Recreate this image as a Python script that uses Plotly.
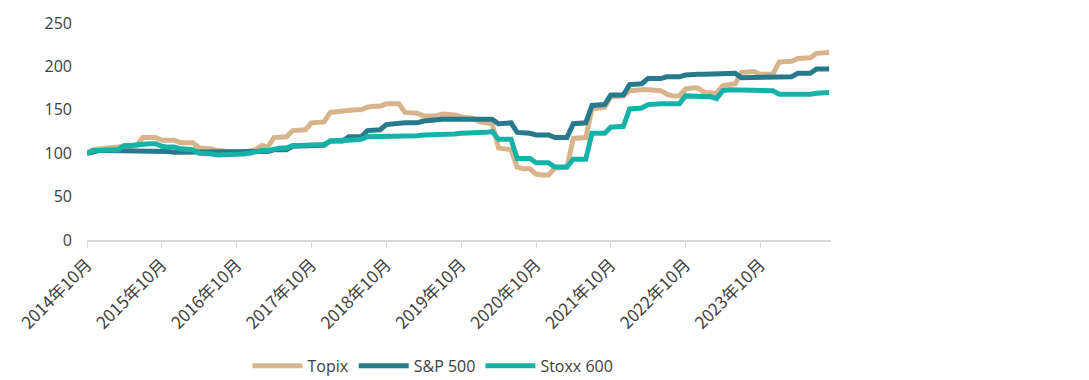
import pandas as pd
import plotly.graph_objects as go

months = pd.date_range("2014-10-01", periods=120, freq="MS")

topix = [100, 104, 105, 106, 106, 107, 108, 108, 109, 118, 118, 118,
         115, 115, 115, 112, 112, 112, 106, 106, 105, 103, 102, 101,
         101, 101, 102, 104, 109, 107, 118, 119, 119, 126, 127, 127,
         135, 136, 136, 147, 148, 148, 149, 150, 150, 153, 154, 154,
         157, 157, 157, 147, 146, 146, 143, 143, 143, 145, 145, 144,
         142, 141, 140, 136, 135, 134, 106, 105, 104, 84, 82, 82,
         76, 75, 75, 83, 84, 84, 117, 117, 118, 151, 152, 153,
         165, 166, 166, 172, 173, 173, 173, 173, 172, 168, 166, 166,
         174, 175, 175, 170, 169, 169, 178, 179, 180, 193, 194, 194,
         191, 191, 191, 205, 206, 206, 209, 209, 210, 215, 216, 216]

sp500 = [100, 102, 103, 103, 103, 103, 103, 103, 102, 102, 102, 102,
         102, 102, 101, 101, 101, 101, 101, 101, 101, 102, 102, 102,
         102, 102, 102, 102, 102, 102, 104, 104, 104, 108, 108, 108,
         109, 109, 109, 114, 114, 114, 119, 119, 119, 126, 127, 127,
         133, 134, 134, 135, 135, 135, 137, 138, 138, 139, 139, 139,
         139, 139, 139, 139, 139, 139, 134, 135, 135, 124, 124, 123,
         121, 121, 121, 118, 118, 118, 134, 134, 135, 155, 155, 156,
         167, 167, 167, 179, 180, 180, 186, 186, 186, 188, 188, 188,
         190, 191, 191, 191, 191, 191, 191, 191, 192, 187, 187, 187,
         187, 187, 187, 188, 188, 188, 192, 192, 192, 197, 197, 197]

stoxx600 = [100, 103, 103, 104, 104, 104, 109, 109, 110, 111, 111, 111,
            108, 107, 107, 105, 104, 104, 100, 100, 99, 98, 98, 98,
            99, 99, 100, 102, 103, 103, 105, 106, 106, 109, 109, 109,
            109, 110, 110, 114, 115, 115, 115, 115, 116, 119, 119, 119,
            119, 119, 119, 119, 120, 120, 121, 121, 122, 122, 122, 122,
            123, 123, 123, 124, 124, 125, 116, 116, 116, 94, 94, 94,
            89, 89, 89, 84, 84, 84, 93, 93, 93, 123, 123, 123,
            130, 130, 131, 151, 152, 152, 156, 157, 157, 157, 157, 157,
            166, 166, 166, 165, 165, 163, 172, 173, 173, 173, 173, 173,
            173, 172, 172, 168, 168, 168, 167, 167, 168, 169, 169, 170]

tick_dates = ["2014-10-01", "2015-10-01", "2016-10-01", "2017-10-01", "2018-10-01",
              "2019-10-01", "2020-10-01", "2021-10-01", "2022-10-01", "2023-10-01"]
tick_labels = ["2014年10月", "2015年10月", "2016年10月", "2017年10月", "2018年10月",
               "2019年10月", "2020年10月", "2021年10月", "2022年10月", "2023年10月"]

series = [("Topix", topix, "#D8B48C"),
          ("S&P 500", sp500, "#267A8C"),
          ("Stoxx 600", stoxx600, "#17B2A7")]

fig = go.Figure()
for name, vals, color in series:
    fig.add_trace(go.Scatter(x=months, y=vals, name=name, mode="lines",
                             line=dict(color=color, width=5)))

font_family = "Open Sans, Noto Sans CJK SC, sans-serif"
fig.update_layout(
    width=1081, height=372,
    margin=dict(l=79, r=258, t=15, b=140, autoexpand=False),
    paper_bgcolor="white", plot_bgcolor="white",
    font=dict(family=font_family, size=16, color="#404040"),
    showlegend=True,
    legend=dict(orientation="h", x=0.465, xanchor="center", y=-0.58, yanchor="middle",
                font=dict(size=16, color="#404040"), itemwidth=50,
                traceorder="normal"),
    xaxis=dict(range=["2014-10-01", "2024-09-10"], tickvals=tick_dates, ticktext=tick_labels,
               tickangle=-45, showgrid=False, zeroline=False, automargin=False,
               showline=True, linecolor="#D9D9D9", linewidth=2,
               ticks="outside", ticklen=6, tickcolor="#D9D9D9", tickwidth=1,
               tickfont=dict(size=17, color="#404040", family="Noto Sans CJK SC, Open Sans")),
    yaxis=dict(range=[0, 250], tickvals=[0, 50, 100, 150, 200, 250], showgrid=False,
               zeroline=False, showline=False, ticks="", ticklabelstandoff=14, automargin=False,
               tickfont=dict(size=16, color="#404040")),
)

fig.write_html("out.html")
